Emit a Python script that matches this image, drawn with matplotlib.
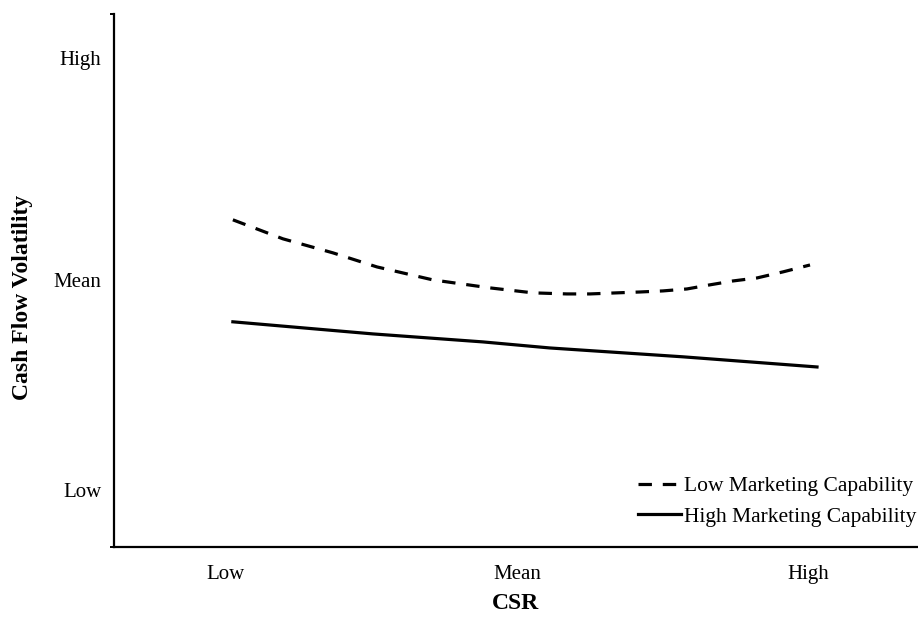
import matplotlib
matplotlib.use("Agg")
import matplotlib.pyplot as plt

plt.rcParams['font.family'] = ['Liberation Serif', 'DejaVu Serif']

# CSR level (Low=0, Mean=1, High=2) and cash flow volatility (Mean=0)
x_low_mc = [0.024, 0.196, 0.368, 0.519, 0.711, 0.907, 1.055, 1.172, 1.251,
            1.344, 1.423, 1.502, 1.584, 1.663, 1.742, 1.825, 1.914, 2.007]
y_low_mc = [0.278, 0.190, 0.125, 0.060, 0.000, -0.037, -0.060, -0.065, -0.065,
            -0.060, -0.056, -0.051, -0.042, -0.023, -0.005, 0.009, 0.037, 0.069]

x_high_mc = [0.024, 0.505, 0.883, 1.113, 1.570, 2.031]
y_high_mc = [-0.194, -0.250, -0.287, -0.315, -0.356, -0.403]

x_ticks = [0, 1, 2]
x_labels = ["Low", "Mean", "High"]
y_ticks = [-0.972, 0, 1.028]
y_labels = ["Low", "Mean", "High"]

fig = plt.figure(figsize=(9.18, 6.17), dpi=100)
ax = fig.add_axes([0.124, 0.1135, 0.876, 0.864])

ax.plot(x_low_mc, y_low_mc, color='black', lw=2.3, linestyle=(0, (4.2, 3.4)),
        label="Low Marketing Capability")
ax.plot(x_high_mc, y_high_mc, color='black', lw=2.3, label="High Marketing Capability")

ax.set_xlim(-0.385, 2.378)
ax.set_ylim(-1.236, 1.231)

ax.spines['top'].set_visible(False)
ax.spines['right'].set_visible(False)
ax.spines['left'].set_linewidth(1.6)
ax.spines['bottom'].set_linewidth(1.6)

ax.set_xticks(x_ticks)
ax.set_xticklabels(x_labels, fontsize=15)
ax.set_yticks(y_ticks)
ax.set_yticklabels(y_labels, fontsize=15)
ax.tick_params(axis='x', length=0, pad=13)
ax.tick_params(axis='y', length=0, pad=9)
ax.set_yticks([-1.236, 0, 1.231], minor=True)
ax.tick_params(axis='y', which='minor', length=3, width=1.4)

ax.set_xlabel("CSR", fontsize=17, fontweight='bold')
ax.xaxis.set_label_coords(0.5, -0.087)
ax.set_ylabel("Cash Flow Volatility", fontsize=17, fontweight='bold')
ax.yaxis.set_label_coords(-0.1, 0.469)

fig.legend(loc='upper left', bbox_to_anchor=(638 / 918, 1 - 476 / 617),
           frameon=False, fontsize=15.5, handlelength=2.0, handletextpad=0.15,
           labelspacing=0.5, borderpad=0, borderaxespad=0)

fig.savefig("out.png", dpi=100)
